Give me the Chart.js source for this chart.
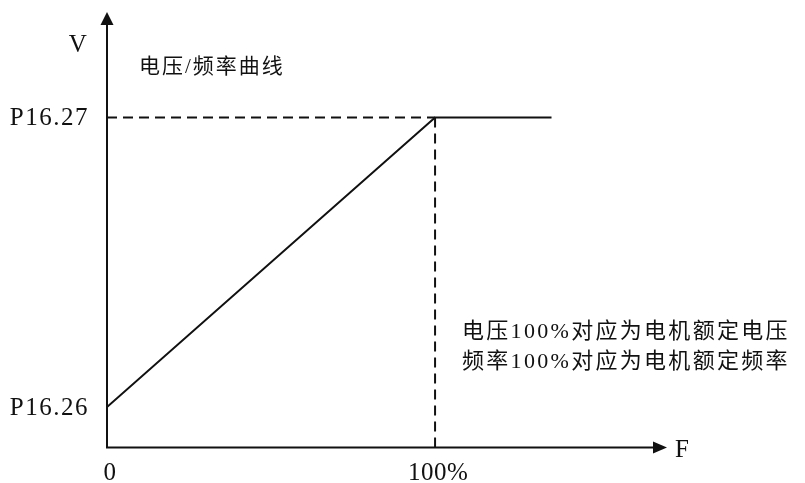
<!DOCTYPE html>
<html lang="zh">
<head>
<meta charset="UTF-8">
<script src="https://cdn.jsdelivr.net/npm/chart.js"></script>
<title>电压/频率曲线</title>
<style>
  body { margin: 0; background: #fff; }
</style>
</head>
<body>
<canvas id="myChart" width="805" height="483"></canvas>
<script>
// data (x = frequency %, y = voltage %)
const curveX = [0, 100, 135.5];
const curveY = [0, 100, 100];
const xTicks = [0, 100];
const xTickLabels = ['0', '100%'];
const yTicks = [0, 100];
const yTickLabels = ['P16.26', 'P16.27'];
const title = '电压/频率曲线';
const note = ['电压100%对应为电机额定电压', '频率100%对应为电机额定频率'];

const ink = '#111';
const serif = "'Liberation Serif', 'Noto Sans CJK SC', serif";

const pts = (xs, ys) => xs.map((x, i) => ({ x: x, y: ys[i] }));

const axesPlugin = {
    id: 'axes',
    afterDatasetsDraw(chart) {
        const ctx = chart.ctx;
        const a = chart.chartArea;
        const xs = chart.scales.x, ys = chart.scales.y;
        ctx.save();
        ctx.strokeStyle = ink;
        ctx.fillStyle = ink;
        ctx.lineWidth = 2;
        // axis lines
        ctx.beginPath();
        ctx.moveTo(a.left, a.top + 10);
        ctx.lineTo(a.left, a.bottom);
        ctx.lineTo(a.right - 10, a.bottom);
        ctx.stroke();
        // arrow heads
        ctx.beginPath();
        ctx.moveTo(a.left, a.top);
        ctx.lineTo(a.left - 6.5, a.top + 13);
        ctx.lineTo(a.left + 6.5, a.top + 13);
        ctx.closePath();
        ctx.fill();
        ctx.beginPath();
        ctx.moveTo(a.right, a.bottom);
        ctx.lineTo(a.right - 14, a.bottom - 6);
        ctx.lineTo(a.right - 14, a.bottom + 6);
        ctx.closePath();
        ctx.fill();

        ctx.textBaseline = 'middle';
        // y tick labels
        ctx.font = '25px ' + serif;
        ctx.letterSpacing = '1.5px';
        ctx.textAlign = 'right';
        yTicks.forEach((v, i) => ctx.fillText(yTickLabels[i], a.left - 18, ys.getPixelForValue(v) + 1));
        // x tick labels
        ctx.letterSpacing = '0.5px';
        ctx.textAlign = 'center';
        xTicks.forEach((v, i) => ctx.fillText(xTickLabels[i], xs.getPixelForValue(v) + 3, a.bottom + 26));
        // axis names
        ctx.fillText('V', a.left - 29, 45);
        ctx.textAlign = 'left';
        ctx.fillText('F', a.right + 8, a.bottom + 3);
        // title and note
        ctx.font = '21px ' + serif;
        ctx.letterSpacing = '2px';
        ctx.fillText(title, 139, 67);
        ctx.font = '22px ' + serif;
        ctx.letterSpacing = '2.3px';
        ctx.fillText(note[0], 462, 332);
        ctx.fillText(note[1], 462, 362);
        ctx.restore();
    }
};

new Chart(document.getElementById('myChart'), {
    type: 'scatter',
    data: {
        datasets: [
            {
                data: pts(curveX, curveY),
                showLine: true,
                borderColor: ink,
                borderWidth: 2,
                pointRadius: 0
            },
            {
                data: pts([xTicks[0], xTicks[1]], [yTicks[1], yTicks[1]]),
                showLine: true,
                borderColor: ink,
                borderWidth: 2,
                borderDash: [10, 6],
                pointRadius: 0
            },
            {
                data: pts([xTicks[1], xTicks[1]], [yTicks[1], -14]),
                showLine: true,
                borderColor: ink,
                borderWidth: 2,
                borderDash: [10, 6],
                pointRadius: 0
            }
        ]
    },
    options: {
        responsive: false,
        animation: false,
        layout: { padding: { left: 107, right: 138, top: 12, bottom: 35.5 } },
        scales: {
            x: { type: 'linear', display: false, min: 0, max: 170.7 },
            y: { type: 'linear', display: false, min: -14, max: 136.4 }
        },
        plugins: { legend: { display: false }, tooltip: { enabled: false } }
    },
    plugins: [axesPlugin]
});
</script>
</body>
</html>
